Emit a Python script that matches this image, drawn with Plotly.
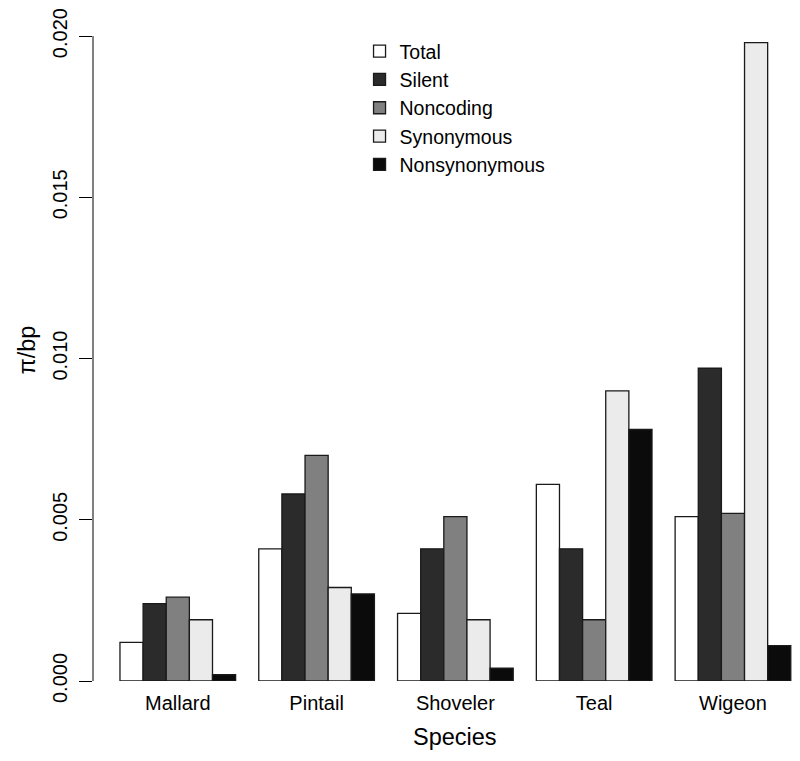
import plotly.graph_objects as go

species = ["Mallard", "Pintail", "Shoveler", "Teal", "Wigeon"]
series_names = ["Total", "Silent", "Noncoding", "Synonymous", "Nonsynonymous"]
total = [0.0012, 0.0041, 0.0021, 0.0061, 0.0051]
silent = [0.0024, 0.0058, 0.0041, 0.0041, 0.0097]
noncoding = [0.0026, 0.0070, 0.0051, 0.0019, 0.0052]
synonymous = [0.0019, 0.0029, 0.0019, 0.0090, 0.0198]
nonsynonymous = [0.0002, 0.0027, 0.0004, 0.0078, 0.0011]
y_ticks = [0.0, 0.005, 0.010, 0.015, 0.020]
y_tick_labels = ["0.000", "0.005", "0.010", "0.015", "0.020"]

series_values = [total, silent, noncoding, synonymous, nonsynonymous]
colors = ["#ffffff", "#2b2b2b", "#808080", "#ebebeb", "#0b0b0b"]

FONT = "Liberation Sans, Arial, Helvetica, sans-serif"

fig = go.Figure()
for name, vals, col in zip(series_names, series_values, colors):
    fig.add_trace(go.Bar(
        x=species, y=vals, name=name,
        marker=dict(color=col, line=dict(color="#1a1a1a", width=1.3)),
    ))

fig.update_layout(
    width=792, height=753,
    margin=dict(l=85, r=0, t=9, b=80),
    paper_bgcolor="white", plot_bgcolor="white",
    barmode="group", bargap=1/6, bargroupgap=0,
    font=dict(family=FONT, size=20, color="black"),
    showlegend=True,
    legend=dict(
        x=0.377, y=0.982, xanchor="left", yanchor="top",
        bgcolor="rgba(0,0,0,0)", font=dict(family=FONT, size=19.5, color="black"),
        traceorder="normal",
    ),
    xaxis=dict(
        type="category", range=[-0.611, 4.483],
        showline=False, showgrid=False, zeroline=False, ticks="",
        tickfont=dict(family=FONT, size=20, color="black"),
        ticklabelstandoff=8,
    ),
    yaxis=dict(
        range=[0, 0.0205], showline=False, showgrid=False, zeroline=False,
        tickmode="array", tickvals=y_ticks, ticktext=y_tick_labels,
        ticks="outside", ticklen=13, tickwidth=1, tickcolor="black",
        tickangle=-90, tickfont=dict(family=FONT, size=20, color="black"),
        ticklabelstandoff=4, ticklabeloverflow="allow",
    ),
    shapes=[dict(type="line", xref="paper", yref="y", x0=0, x1=0,
                 y0=y_ticks[0], y1=y_ticks[-1], line=dict(color="black", width=1))],
    annotations=[
        dict(text="Species", xref="paper", yref="paper", x=0.512, y=0,
             yshift=-56, xanchor="center", yanchor="middle", showarrow=False,
             font=dict(family=FONT, size=23.5, color="black")),
        dict(text="π/bp", xref="paper", yref="paper", x=0, y=0.5,
             xshift=-67, textangle=-90, xanchor="center", yanchor="middle",
             showarrow=False, font=dict(family=FONT, size=23.5, color="black")),
    ],
)

fig.write_html("out.html")
